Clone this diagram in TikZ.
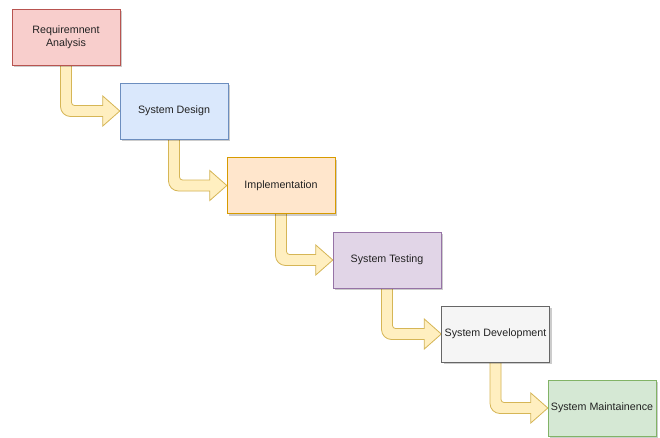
\documentclass[tikz,border=0pt]{standalone}
\usepackage{fontspec}
\setmainfont{Liberation Sans}
\usetikzlibrary{calc,shadows}
\definecolor{redF}{HTML}{F8CECC}\definecolor{redD}{HTML}{B85450}
\definecolor{bluF}{HTML}{DAE8FC}\definecolor{bluD}{HTML}{6C8EBF}
\definecolor{oraF}{HTML}{FFE6CC}\definecolor{oraD}{HTML}{D79B00}
\definecolor{purF}{HTML}{E1D5E7}\definecolor{purD}{HTML}{9673A6}
\definecolor{gryF}{HTML}{F5F5F5}\definecolor{gryD}{HTML}{666666}
\definecolor{grnF}{HTML}{D5E8D4}\definecolor{grnD}{HTML}{82B366}
\definecolor{arrF}{HTML}{FFEFC0}\definecolor{arrD}{HTML}{D6B656}
\definecolor{txt}{HTML}{222222}
\tikzset{
  stagebox/.style={draw=#1D, fill=#1F, line width=0.8pt, minimum width=108pt, minimum height=56pt,
    inner sep=0pt, align=center, text=txt, font=\fontsize{10.7}{12.5}\selectfont,
    drop shadow={shadow xshift=2pt, shadow yshift=-2pt, opacity=0.2, fill=black}},
  flexline/.style={draw=arrD, fill=arrF, line width=0.8pt, line join=miter},
  flexshadow/.style={fill=black, opacity=0.15, draw=none, xshift=2pt, yshift=-2pt}
}
\newcommand{\flexpath}[3]{%
  \path[#3] let \p1=(#1.south), \p2=(#2.west) in
    (\x1-5.5pt,\y1+2pt) -- (\x1-5.5pt,\y2+4.5pt)
    arc[start angle=180,end angle=270,radius=10pt]
    -- (\x2-17pt,\y2-5.5pt) -- (\x2-17pt,\y2-15pt) -- (\x2,\y2)
    -- (\x2-17pt,\y2+15pt) -- (\x2-17pt,\y2+5.5pt)
    -- (\x1+8.5pt,\y2+5.5pt) arc[start angle=270,end angle=180,radius=3pt]
    -- (\x1+5.5pt,\y1+2pt) -- cycle;}
\newcommand{\flexarrow}[2]{\flexpath{#1}{#2}{flexshadow}\flexpath{#1}{#2}{flexline}}
\begin{document}
\begin{tikzpicture}[x={(1pt,0)},y={(0,-1pt)}]
\useasboundingbox (0,0) rectangle (660,437);
\coordinate (c1) at (66,37);
\coordinate (c2) at (174,111);
\coordinate (c3) at (281,185.5);
\coordinate (c4) at (387,260);
\coordinate (c5) at (495.5,334);
\coordinate (c6) at (602,408);
% invisible nodes first, for the arrow geometry
\foreach \i in {1,...,6}{\path (c\i) node[minimum width=108pt,minimum height=56pt,inner sep=0pt] (g\i) {};}
\flexarrow{g1}{g2}
\flexarrow{g2}{g3}
\flexarrow{g3}{g4}
\flexarrow{g4}{g5}
\flexarrow{g5}{g6}
\node[stagebox=red] (b1) at (c1) {Requiremnent\\Analysis};
\node[stagebox=blu] (b2) at (c2) {System Design};
\node[stagebox=ora] (b3) at (c3) {Implementation};
\node[stagebox=pur] (b4) at (c4) {System Testing};
\node[stagebox=gry] (b5) at (c5) {System Development};
\node[stagebox=grn] (b6) at (c6) {System Maintainence};
\end{tikzpicture}
\end{document}
